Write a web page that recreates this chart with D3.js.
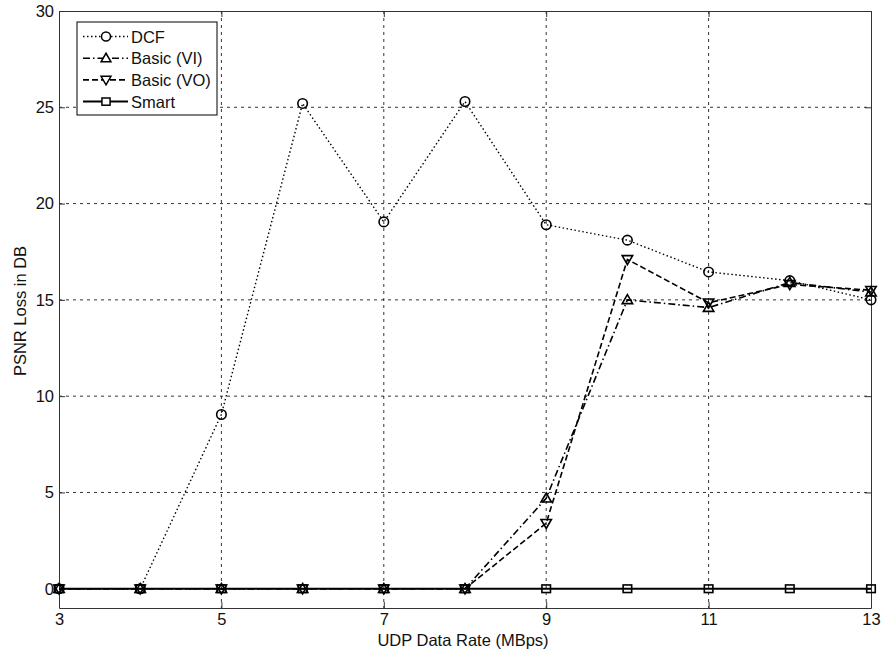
<!DOCTYPE html>
<html>
<head>
<meta charset="UTF-8">
<title>PSNR Loss</title>
<script src="https://cdnjs.cloudflare.com/ajax/libs/d3/7.8.5/d3.min.js"></script>
<style>
  body { margin: 0; background: #fff; }
  svg { font-family: "Liberation Sans", Arial, sans-serif; }
</style>
</head>
<body>
<svg id="chart"></svg>
<script>
var rates = [3, 4, 5, 6, 7, 8, 9, 10, 11, 12, 13]
var dcf = [0, 0, 9.05, 25.2, 19.05, 25.3, 18.9, 18.1, 16.45, 16.0, 15.0]
var basicVI = [0, 0, 0, 0, 0, 0, 4.7, 15.0, 14.6, 15.9, 15.4]
var basicVO = [0, 0, 0, 0, 0, 0, 3.4, 17.1, 14.85, 15.8, 15.5]
var smart = [0, 0, 0, 0, 0, 0, 0, 0, 0, 0, 0]
var xTicks = [3, 5, 7, 9, 11, 13]
var yTicks = [0, 5, 10, 15, 20, 25, 30]

var series = [
  { name: "DCF", values: dcf, dash: "1.5,2.5", marker: "circle", width: 1.4 },
  { name: "Basic (VI)", values: basicVI, dash: "7,3,1.5,3", marker: "up", width: 1.6 },
  { name: "Basic (VO)", values: basicVO, dash: "6,3", marker: "down", width: 1.6 },
  { name: "Smart", values: smart, dash: null, marker: "square", width: 2 }
]

var svgWidth = 881, svgHeight = 653
var margin = { top: 11, right: 10, bottom: 45, left: 59 }
var width = svgWidth - margin.left - margin.right
var height = svgHeight - margin.top - margin.bottom
var fontSize = 16.5

var svg = d3.select("#chart").attr("width", svgWidth).attr("height", svgHeight)
var g = svg.append("g").attr("transform", "translate(" + margin.left + "," + margin.top + ")")

var x = d3.scaleLinear().domain([3, 13]).range([0, width])
var y = d3.scaleLinear().domain([-1, 30]).range([height, 0])

// grid
g.append("g").selectAll("line").data(xTicks.slice(1, -1)).join("line")
  .attr("x1", d => x(d)).attr("x2", d => x(d)).attr("y1", 0).attr("y2", height)
  .attr("stroke", "#000").attr("stroke-width", 0.8).attr("stroke-dasharray", "3,4")
g.append("g").selectAll("line").data(yTicks.slice(1, -1)).join("line")
  .attr("x1", 0).attr("x2", width).attr("y1", d => y(d)).attr("y2", d => y(d))
  .attr("stroke", "#000").attr("stroke-width", 0.8).attr("stroke-dasharray", "3,4")

// axes
g.append("g").attr("transform", "translate(0," + height + ")")
  .call(d3.axisBottom(x).tickValues(xTicks).tickSizeInner(-6).tickSizeOuter(0).tickPadding(5))
g.append("g")
  .call(d3.axisLeft(y).tickValues(yTicks).tickSizeInner(-6).tickSizeOuter(0).tickPadding(5))
g.append("g").attr("transform", "translate(" + width + ",0)")
  .call(d3.axisRight(y).tickValues(yTicks).tickSizeInner(-6).tickSizeOuter(0).tickFormat(""))
g.append("g")
  .call(d3.axisTop(x).tickValues(xTicks).tickSizeInner(-6).tickSizeOuter(0).tickFormat(""))
g.selectAll(".domain").attr("stroke", "#333")
g.selectAll(".tick line").attr("stroke", "#333")
g.selectAll(".tick text").attr("font-size", fontSize).attr("fill", "#111")
  .attr("font-family", "Liberation Sans, Arial, sans-serif")

svg.append("text").attr("x", 463).attr("y", 646)
  .attr("text-anchor", "middle").attr("font-size", fontSize).attr("fill", "#111")
  .text("UDP Data Rate (MBps)")
svg.append("text").attr("transform", "translate(26,311) rotate(-90)")
  .attr("text-anchor", "middle").attr("font-size", fontSize).attr("fill", "#111")
  .text("PSNR Loss in DB")

function marker(sel, type, size) {
  var s = size
  if (type === "circle") {
    sel.append("circle").attr("r", s * 0.5)
  } else if (type === "square") {
    sel.append("rect").attr("x", -s * 0.45).attr("y", -s * 0.4).attr("width", s * 0.9).attr("height", s * 0.8)
  } else if (type === "up") {
    sel.append("path").attr("d", "M0," + (-s * 0.55) + "L" + (s * 0.55) + "," + (s * 0.4) + "L" + (-s * 0.55) + "," + (s * 0.4) + "Z")
  } else {
    sel.append("path").attr("d", "M0," + (s * 0.55) + "L" + (s * 0.55) + "," + (-s * 0.4) + "L" + (-s * 0.55) + "," + (-s * 0.4) + "Z")
  }
}

var line = d3.line().x((d, i) => x(rates[i])).y(d => y(d))

series.forEach(function (s) {
  var sg = g.append("g")
  sg.append("path").datum(s.values).attr("d", line)
    .attr("fill", "none").attr("stroke", "#000").attr("stroke-width", s.width)
    .attr("stroke-dasharray", s.dash)
  sg.selectAll("g.pt").data(s.values).join("g").attr("class", "pt")
    .attr("transform", (d, i) => "translate(" + x(rates[i]) + "," + y(d) + ")")
    .each(function () {
      var m = d3.select(this)
      marker(m, s.marker, 9.5)
      m.selectAll("*").attr("fill", "none").attr("stroke", "#000").attr("stroke-width", 1.6)
    })
})

// legend
var lg = svg.append("g").attr("transform", "translate(77,22)")
lg.append("rect").attr("width", 140).attr("height", 93).attr("fill", "#fff").attr("stroke", "#000").attr("stroke-width", 1)
series.forEach(function (s, i) {
  var yy = 14.5 + i * 21.7
  lg.append("line").attr("x1", 6).attr("x2", 51).attr("y1", yy).attr("y2", yy)
    .attr("stroke", "#000").attr("stroke-width", s.width).attr("stroke-dasharray", s.dash)
  var m = lg.append("g").attr("transform", "translate(29," + yy + ")")
  marker(m, s.marker, 9)
  m.selectAll("*").attr("fill", "#fff").attr("stroke", "#000").attr("stroke-width", 1.5)
  lg.append("text").attr("x", 54).attr("y", yy + 6).attr("font-size", fontSize).attr("fill", "#111").text(s.name)
})
</script>
</body>
</html>
